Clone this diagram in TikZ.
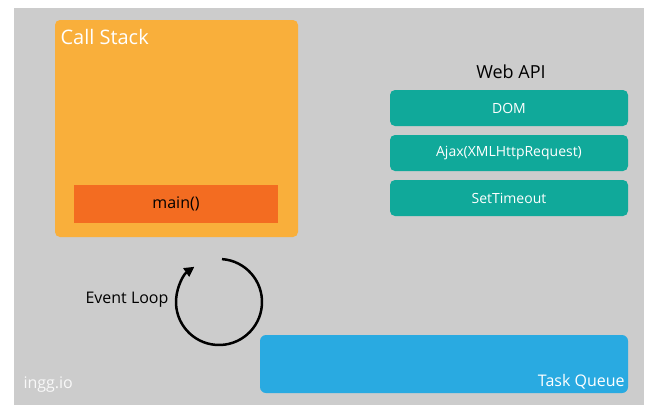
\documentclass[tikz,border=0pt]{standalone}
\usepackage{fontspec}
\setmainfont{Open Sans}
\usetikzlibrary{arrows.meta,calc}
\definecolor{bggray}{HTML}{CCCCCC}
\definecolor{stackorange}{HTML}{F9AF3B}
\definecolor{mainorange}{HTML}{F36C21}
\definecolor{apiteal}{HTML}{10A99A}
\definecolor{queueblue}{HTML}{29AAE1}
\begin{document}
\begin{tikzpicture}[x=1pt,y=-1pt]
% styles
\tikzstyle{api} = [fill=apiteal, rounded corners=5pt, text=white,
	minimum width=238pt, minimum height=36pt, font=\fontsize{14}{16}\selectfont];
\tikzstyle{plain} = [draw=none,fill=none, font=\fontsize{16}{18}\selectfont];
\useasboundingbox (0,0) rectangle (659,418);
\fill[bggray] (14,8) rectangle (644,405);
% call stack
\node[fill=stackorange, rounded corners=5pt, minimum width=243pt, minimum height=217pt] (stack) at (176.5,128.5) {};
\node[plain, anchor=west, text=white, font=\fontsize{20}{22}\selectfont] (stacklbl) at (57,37) {Call Stack};
\node[fill=mainorange, minimum width=204pt, minimum height=38pt, font=\fontsize{16}{18}\selectfont] (main) at (176,204) {main()};
% web api
\node[plain, font=\fontsize{18}{20}\selectfont] (webapi) at (511,72) {Web API};
\node[api] (dom) at (509,108) {DOM};
\node[api] (ajax) at (509,153) {Ajax(XMLHttpRequest)};
\node[api] (timeout) at (509,198) {SetTimeout};
% event loop
\coordinate (loop) at (219,302);
\draw[line width=2.5pt, -{Triangle[length=10pt,width=10pt]}] ($(loop)+(-86:43)$) arc[start angle=-86, end angle=235, radius=43];
\node[plain, anchor=east] (looplbl) at (172,300) {Event Loop};
% task queue
\node[fill=queueblue, rounded corners=6pt, minimum width=368pt, minimum height=58pt] (queue) at (444,364) {};
\node[plain, anchor=south east, text=white] (queuelbl) at (queue.south east) {Task Queue};
\node[plain, anchor=west, text=white!88!bggray] (mark) at (20,385) {ingg.io};
\end{tikzpicture}
\end{document}
